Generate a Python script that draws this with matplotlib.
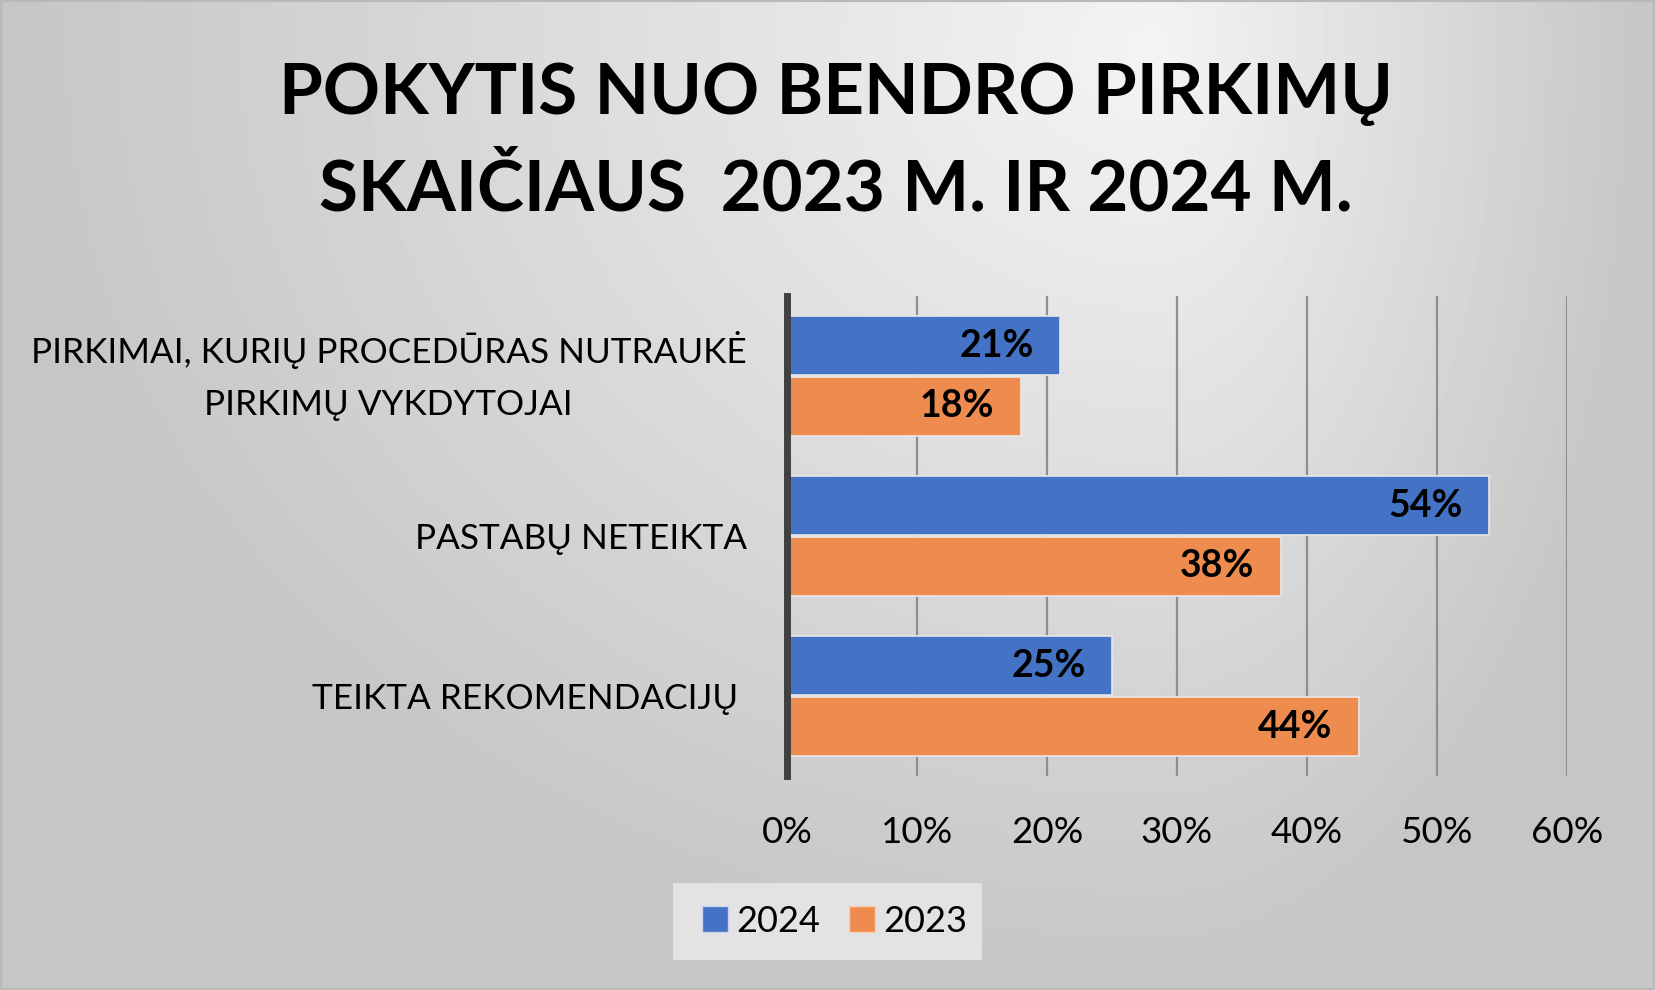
import numpy as np
import matplotlib
matplotlib.use('Agg')
import matplotlib.pyplot as plt
from matplotlib.patches import Rectangle, Patch

plt.rcParams['font.family'] = ['Lato', 'DejaVu Sans']

# Data
categories = ['PIRKIMAI, KURIŲ PROCEDŪRAS NUTRAUKĖ\nPIRKIMŲ VYKDYTOJAI',
              'PASTABŲ NETEIKTA',
              'TEIKTA REKOMENDACIJŲ ']
series_names = ['2024', '2023']
vals_2024 = [0.21, 0.54, 0.25]
vals_2023 = [0.18, 0.38, 0.44]
x_ticks = [0, 0.1, 0.2, 0.3, 0.4, 0.5, 0.6]
title = 'POKYTIS NUO BENDRO PIRKIMŲ\nSKAIČIAUS  2023 M. IR 2024 M.'

blue = '#4472C4'
orange = '#ED8C4E'

fig = plt.figure(figsize=(16.55, 9.9), dpi=100)

# gradient background (light near the top, gray towards the edges)
bg = fig.add_axes([0, 0, 1, 1], zorder=-5)
gx, gy = np.meshgrid(np.linspace(0, 1, 400), np.linspace(1, 0, 240))
cx, cy = 0.70, 0.95
dx = np.where(gx < cx, (cx - gx) / cx, (gx - cx) / (1 - cx))
dy = (cy - gy) / cy
t = np.clip(np.sqrt(dx ** 2 + dy ** 2), 0, 1)
shade = 0.955 - (0.955 - 0.775) * t
bg.imshow(shade, extent=[0, 1, 0, 1], aspect='auto', cmap='gray', vmin=0, vmax=1)
bg.axis('off')
fig.patches.append(Rectangle((0, 0), 1, 1, transform=fig.transFigure, fill=False,
                             edgecolor='#b9b9b9', lw=3, zorder=10))
# legend background box
fig.patches.append(Rectangle((673 / 1655, 1 - 960 / 990), 309 / 1655, 77 / 990,
                             transform=fig.transFigure, facecolor='#e3e3e3',
                             edgecolor='none', zorder=1))

ax = fig.add_axes([0.4755, 0.216, 0.4713, 0.485])
ax.patch.set_alpha(0)

y = np.arange(len(categories))
ax.barh(y - 0.19, vals_2024, height=0.37, color=blue, edgecolor='#e8e8e8', lw=1.2, zorder=3)
ax.barh(y + 0.19, vals_2023, height=0.37, color=orange, edgecolor='#e8e8e8', lw=1.2, zorder=3)

for yy, v in zip(y - 0.19, vals_2024):
    ax.annotate(f'{v:.0%}', xy=(v, yy), xytext=(-19, 0), textcoords='offset points',
                ha='right', va='center', fontsize=27, fontweight='bold', zorder=4)
for yy, v in zip(y + 0.19, vals_2023):
    ax.annotate(f'{v:.0%}', xy=(v, yy), xytext=(-19, 0), textcoords='offset points',
                ha='right', va='center', fontsize=27, fontweight='bold', zorder=4)

ax.set_xlim(0, 0.6)
ax.set_ylim(2.5, -0.5)
ax.set_xticks(x_ticks)
ax.set_xticklabels([f'{v:.0%}' for v in x_ticks], fontsize=26.5)
ax.set_yticks(y)
ax.set_yticklabels(categories, fontsize=25.3, multialignment='center', linespacing=1.75)
ax.get_yticklabels()[0].set_va('center')
ax.tick_params(axis='both', length=0)
ax.tick_params(axis='x', pad=29)
ax.tick_params(axis='y', pad=29)
ax.xaxis.grid(True, color='#8f8f8f', lw=1.6)
ax.set_axisbelow(True)
for s in ['top', 'right', 'bottom']:
    ax.spines[s].set_visible(False)
ax.spines['left'].set_color('#404040')
ax.spines['left'].set_linewidth(5)
ax.spines['left'].set_zorder(5)

fig.text(0.505, 0.857, title, ha='center', va='center', fontsize=51,
         fontweight='bold', linespacing=1.59)

handles = [Patch(facecolor=blue, edgecolor='#c8d4ee'), Patch(facecolor=orange, edgecolor='#f6cfb4')]
leg = fig.legend(handles, series_names, loc='center', bbox_to_anchor=(835 / 1655, 1 - 921 / 990),
                 ncol=2, fontsize=26, frameon=False,
                 handlelength=0.7, handleheight=0.7, handletextpad=0.25,
                 columnspacing=0.8, borderpad=0, borderaxespad=0)
leg.set_zorder(2)

fig.savefig('out.png', dpi=100)
